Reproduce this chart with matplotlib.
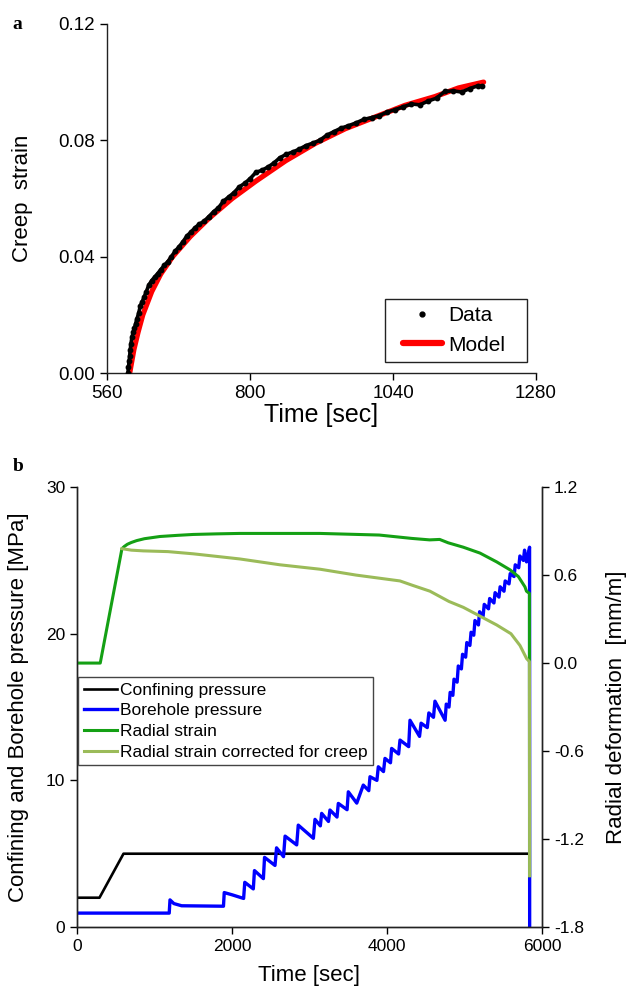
import matplotlib
matplotlib.use("Agg")
import matplotlib.pyplot as plt
from matplotlib.lines import Line2D
from matplotlib.patches import Rectangle

plt.rcParams.update({
    "font.family": ["Liberation Sans", "DejaVu Sans"],
    "font.size": 13,
    "axes.linewidth": 1.0,
    "axes.edgecolor": "#222222",
    "xtick.direction": "out",
    "ytick.direction": "out",
})

# ── (a) creep test: measured strain and model fit ────────────────────────────
data_t = [595, 596, 597, 598, 599, 600, 602, 604, 606, 608, 610, 613, 616, 619,
          622, 626, 630, 635, 640, 645, 650, 656, 662, 668, 674, 680, 687, 694,
          701, 708, 715, 723, 731, 739, 747, 755, 764, 773, 782, 791, 800, 810,
          820, 830, 840, 850, 861, 872, 883, 894, 905, 917, 929, 941, 953, 965,
          978, 991, 1004, 1017, 1030, 1043, 1057, 1071, 1085, 1099, 1113, 1127,
          1141, 1155, 1169, 1183, 1190]
data_s = [0.000, 0.002, 0.004, 0.006, 0.008, 0.010, 0.0125, 0.014, 0.0155, 0.017,
          0.0185, 0.0205, 0.0232, 0.0245, 0.026, 0.028, 0.0302, 0.0318, 0.0330,
          0.0342, 0.0355, 0.0370, 0.0383, 0.0400, 0.0418, 0.0432, 0.0450, 0.0471,
          0.0485, 0.0500, 0.0512, 0.0522, 0.0538, 0.0555, 0.0568, 0.0590, 0.0605,
          0.0620, 0.0640, 0.0652, 0.0668, 0.0690, 0.0697, 0.0708, 0.0722, 0.0740,
          0.0752, 0.0760, 0.0770, 0.0782, 0.0790, 0.0800, 0.0818, 0.0830, 0.0842,
          0.0850, 0.0860, 0.0872, 0.0878, 0.0885, 0.0897, 0.0905, 0.0915, 0.0925,
          0.0922, 0.0935, 0.0945, 0.0968, 0.0970, 0.0966, 0.0978, 0.0988, 0.0985]
model_t = [598, 605, 612, 620, 635, 650, 670, 700, 730, 770, 810, 860, 910, 960,
           1010, 1060, 1110, 1150, 1192]
model_s = [0.000, 0.008, 0.014, 0.020, 0.028, 0.034, 0.040, 0.047, 0.053, 0.060,
           0.066, 0.073, 0.079, 0.084, 0.088, 0.092, 0.095, 0.098, 0.100]

# ── (b) borehole test ───────────────────────────────────────────────────────
conf_t = [0, 290, 600, 5830]
conf_p = [2.0, 2.0, 5.0, 5.0]

bore_t = [0, 1190, 1200, 1250, 1350, 1890, 1900, 2000, 2150, 2165, 2275, 2290,
          2405, 2420, 2555, 2575, 2665, 2685, 2835, 2855, 3050, 3071, 3140, 3157,
          3245, 3264, 3355, 3372, 3485, 3501, 3610, 3694, 3765, 3781, 3870, 3888,
          3955, 3974, 4045, 4060, 4150, 4168, 4280, 4297, 4420, 4440, 4520, 4540,
          4600, 4619, 4750, 4765, 4800, 4815, 4850, 4865, 4905, 4920, 4960, 4975,
          5015, 5030, 5070, 5085, 5120, 5135, 5180, 5195, 5240, 5255, 5310, 5325,
          5380, 5395, 5445, 5460, 5510, 5525, 5575, 5590, 5640, 5655, 5700, 5715,
          5760, 5775, 5800, 5840, 5841]
bore_p = [0.95, 0.95, 1.85, 1.6, 1.45, 1.42, 2.35, 2.2, 1.95, 3.05, 2.6, 3.85,
          3.3, 4.75, 4.2, 5.4, 4.8, 6.2, 5.6, 6.95, 6.05, 7.34, 6.9, 7.75,
          7.2, 7.98, 7.5, 8.43, 8.0, 9.22, 8.45, 9.68, 9.3, 10.25, 10.0, 10.93,
          10.6, 11.5, 11.2, 12.18, 11.8, 12.75, 12.3, 14.1, 13.0, 13.9, 13.6, 14.6,
          14.3, 15.4, 14.1, 15.2, 15.0, 16.0, 15.8, 16.9, 16.7, 17.8, 17.6, 18.6,
          18.4, 19.4, 19.2, 20.1, 19.9, 20.9, 20.6, 21.5, 21.2, 22.0, 21.7, 22.4,
          22.1, 22.8, 22.5, 23.2, 22.9, 23.6, 23.4, 24.1, 23.9, 24.7, 24.5, 25.3,
          25.0, 25.7, 24.9, 25.9, 0.0]

rad_t = [0, 300, 580, 610, 650, 700, 770, 870, 1070, 1300, 1500, 1800, 2100,
         3135, 3900, 4320, 4550, 4680, 4790, 4985, 5200, 5415, 5590, 5695, 5780,
         5800, 5838, 5840]
rad_e = [0.0, 0.0, 0.78, 0.795, 0.81, 0.822, 0.835, 0.848, 0.863, 0.871, 0.877,
         0.881, 0.884, 0.884, 0.873, 0.85, 0.84, 0.843, 0.82, 0.79, 0.75, 0.69,
         0.635, 0.59, 0.52, 0.49, 0.475, -1.45]

corr_t = [580, 700, 856, 1174, 1500, 2100, 2620, 3135, 3600, 4168, 4330, 4555,
          4800, 4985, 5200, 5415, 5600, 5716, 5802, 5838, 5840]
corr_e = [0.78, 0.77, 0.765, 0.76, 0.745, 0.71, 0.67, 0.64, 0.60, 0.56, 0.53,
          0.49, 0.42, 0.38, 0.32, 0.26, 0.20, 0.12, 0.03, 0.01, -1.45]

BLUE, GREEN, LGREEN = "#0000FF", "#14A014", "#9BBB59"

fig = plt.figure(figsize=(6.27, 9.86), dpi=100)

# ----- panel a -----
ax = fig.add_axes([0.1707, 0.6217, 0.6842, 0.354])
ax.plot(model_t, model_s, color="#FF0000", lw=3.8, solid_capstyle="round", zorder=2)
ax.plot(data_t, data_s, color="black", lw=2.6, zorder=3)
ax.plot(data_t, data_s, "o", color="black", ms=3.2, zorder=4)
ax.set_xlim(560, 1280)
ax.set_ylim(0, 0.12)
ax.set_xticks([560, 800, 1040, 1280])
ax.set_yticks([0.00, 0.04, 0.08, 0.12])
ax.set_yticklabels(["0.00", "0.04", "0.08", "0.12"])
ax.tick_params(labelsize=13.5, length=5, width=1)
ax.spines["top"].set_visible(False)
ax.spines["right"].set_visible(False)
ax.set_xlabel("Time [sec]", fontsize=18, labelpad=1)
ax.set_ylabel("Creep  strain", fontsize=16, labelpad=18)

# legend box drawn separately so its padding matches the original
ax.add_patch(Rectangle((0.648, 0.031), 0.33, 0.181, transform=ax.transAxes,
                       facecolor="white", edgecolor="#222222", lw=1.0, zorder=5))
h_a = [Line2D([], [], ls="none", marker="o", ms=3.5, color="black"),
       Line2D([], [], color="#FF0000", lw=4.5, solid_capstyle="round")]
leg_a = ax.legend(h_a, ["Data", "Model"], loc="center", bbox_to_anchor=(0.809, 0.1218),
                  fontsize=15, frameon=False, handlelength=1.9, handletextpad=0.3,
                  labelspacing=0.5, borderpad=0, borderaxespad=0)
leg_a.set_zorder(6)
fig.text(0.02, 0.975, "a", family="Liberation Serif", fontweight="bold",
         fontsize=14, va="center")

# ----- panel b -----
ax1 = fig.add_axes([0.1228, 0.0598, 0.7416, 0.4462])
l1, = ax1.plot(conf_t, conf_p, color="black", lw=1.9, label="Confining pressure")
l2, = ax1.plot(bore_t, bore_p, color=BLUE, lw=2.4, label="Borehole pressure")
ax1.set_xlim(0, 6000)
ax1.set_ylim(0, 30)
ax1.set_xticks([0, 2000, 4000, 6000])
ax1.set_yticks([0, 10, 20, 30])
ax1.tick_params(labelsize=12.5, length=5, width=1)
ax1.spines["top"].set_visible(False)
ax1.set_xlabel("Time [sec]", fontsize=16, labelpad=8)
ax1.set_ylabel("Confining and Borehole pressure [MPa]", fontsize=16, labelpad=12)

ax2 = ax1.twinx()
l3, = ax2.plot(rad_t, rad_e, color=GREEN, lw=2.2, label="Radial strain")
l4, = ax2.plot(corr_t, corr_e, color=LGREEN, lw=2.2,
               label="Radial strain corrected for creep")
ax2.set_ylim(-1.8, 1.2)
ax2.set_yticks([-1.8, -1.2, -0.6, 0.0, 0.6, 1.2])
ax2.set_yticklabels(["-1.8", "-1.2", "-0.6", "0.0", "0.6", "1.2"])
ax2.tick_params(labelsize=12.5, length=5, width=1)
ax2.spines["top"].set_visible(False)
ax2.set_ylabel("Radial deformation  [mm/m]", fontsize=16, labelpad=16)
leg = ax2.legend([l1, l2, l3, l4], [l.get_label() for l in (l1, l2, l3, l4)],
                 loc="upper left", bbox_to_anchor=(0.003, 0.5675), fontsize=12.5,
                 fancybox=False, edgecolor="#444444", framealpha=1,
                 handlelength=1.9, handletextpad=0.2, labelspacing=0.32,
                 borderpad=0.3, borderaxespad=0)
leg.set_zorder(10)
fig.text(0.02, 0.527, "b", family="Liberation Serif", fontweight="bold",
         fontsize=14, va="center")

fig.savefig("out.png", dpi=100, facecolor="white")
